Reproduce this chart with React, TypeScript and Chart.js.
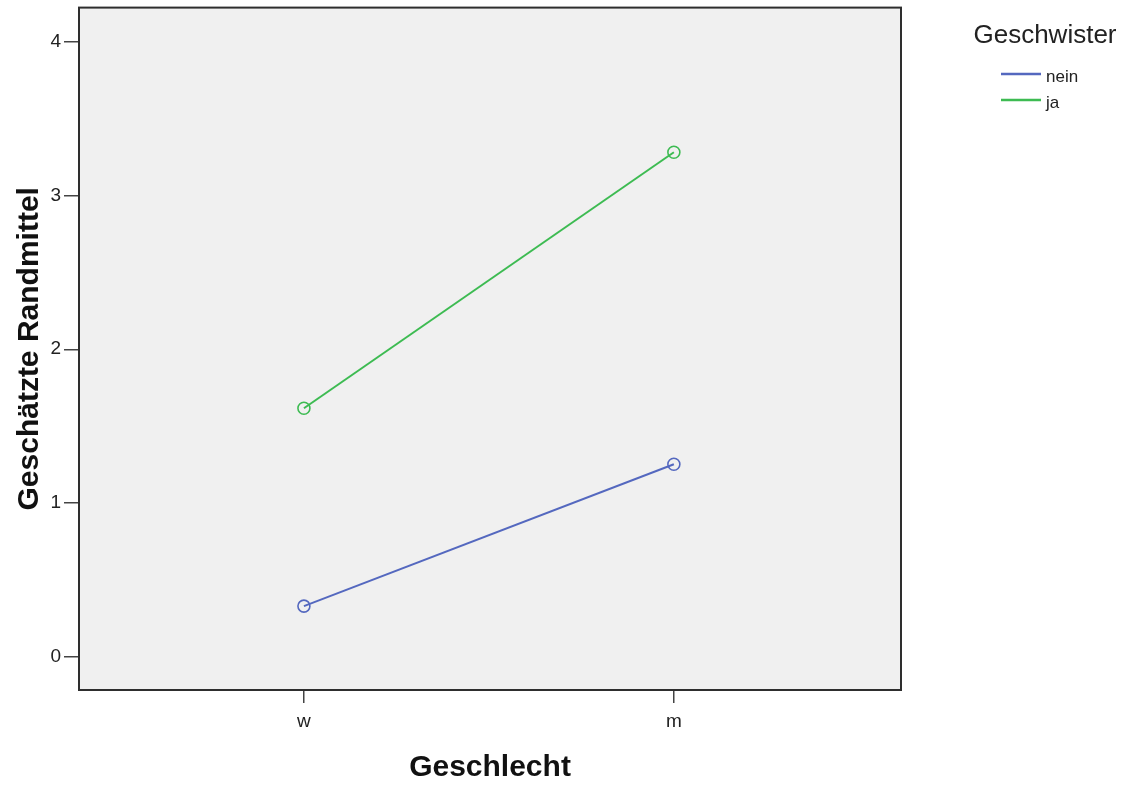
import React, { useEffect, useRef } from "react";
import { Chart, registerables } from "chart.js";

Chart.register(...registerables);

const categories = ["w", "m"];
const seriesNames = ["nein", "ja"];
const neinValues = [0.331, 1.253];
const jaValues = [1.617, 3.28];
const yTicks = [0, 1, 2, 3, 4];
const legendTitle = "Geschwister";
const xTitle = "Geschlecht";
const yTitle = "Geschätzte Randmittel";

const BLUE = "#5468bf";
const GREEN = "#3dbb52";
const FONT = "'Liberation Sans', Arial, sans-serif";

const frameAndLegend = {
  id: "frameAndLegend",
  beforeDraw(chart: any) {
    const { ctx, chartArea } = chart;
    ctx.save();
    ctx.fillStyle = "#f0f0f0";
    ctx.fillRect(chartArea.left, chartArea.top, chartArea.right - chartArea.left, chartArea.bottom - chartArea.top);
    ctx.restore();
  },
  afterDraw(chart: any) {
    const { ctx, chartArea } = chart;
    ctx.save();
    ctx.strokeStyle = "#2e2e2e";
    ctx.lineWidth = 2;
    ctx.strokeRect(chartArea.left, chartArea.top, chartArea.right - chartArea.left, chartArea.bottom - chartArea.top);
    // legend
    ctx.fillStyle = "#222";
    ctx.textAlign = "center";
    ctx.textBaseline = "middle";
    ctx.font = `26px ${FONT}`;
    ctx.fillText(legendTitle, 1045, 36);
    const colors = [BLUE, GREEN];
    ctx.font = `17px ${FONT}`;
    ctx.textAlign = "left";
    seriesNames.forEach((name, i) => {
      const y = 77 + i * 26;
      ctx.strokeStyle = colors[i];
      ctx.lineWidth = 2.5;
      ctx.beginPath();
      ctx.moveTo(1001, y - 3);
      ctx.lineTo(1041, y - 3);
      ctx.stroke();
      ctx.fillStyle = "#222";
      ctx.fillText(name, 1046, y);
    });
    ctx.restore();
  },
};

export default function App() {
  const ref = useRef<HTMLCanvasElement>(null);
  useEffect(() => {
    document.body.style.margin = "0";
    Chart.defaults.font.family = FONT;
    const mk = (vals: number[]) => vals.map((v, i) => ({ x: i, y: v }));
    const ds = (label: string, vals: number[], color: string) => ({
      label,
      data: mk(vals),
      borderColor: color,
      backgroundColor: "rgba(0,0,0,0)",
      pointBorderColor: color,
      pointBackgroundColor: "rgba(0,0,0,0)",
      pointRadius: 6,
      pointBorderWidth: 1.6,
      borderWidth: 2,
    });
    const chart = new Chart(ref.current!, {
      type: "line",
      data: {
        datasets: [ds(seriesNames[0], neinValues, BLUE), ds(seriesNames[1], jaValues, GREEN)],
      },
      options: {
        animation: false,
        responsive: false,
        layout: { padding: { left: 0, top: 7, right: 227, bottom: 0 } },
        plugins: { legend: { display: false }, tooltip: { enabled: false } },
        scales: {
          x: {
            type: "linear",
            min: -0.608,
            max: 1.614,
            afterBuildTicks: (s: any) => {
              s.ticks = categories.map((_, i) => ({ value: i }));
            },
            afterFit: (s: any) => {
              s.height = 97;
              s.paddingLeft = 0;
              s.paddingRight = 0;
            },
            ticks: {
              callback: (v: any) => categories[v] ?? "",
              color: "#222",
              font: { size: 19 },
              padding: 7,
              maxRotation: 0,
            },
            grid: { drawOnChartArea: false, drawTicks: true, tickLength: 13, color: "#444", lineWidth: 1.5 },
            border: { display: false },
            title: {
              display: true,
              text: xTitle,
              color: "#111",
              font: { size: 30, weight: "bold" },
              padding: { top: 0, bottom: 1 },
            },
          },
          y: {
            type: "linear",
            min: -0.214,
            max: 4.22,
            afterBuildTicks: (s: any) => {
              s.ticks = yTicks.map((v) => ({ value: v }));
            },
            afterFit: (s: any) => {
              s.width = 79;
              s.paddingTop = 0;
              s.paddingBottom = 0;
            },
            ticks: {
              color: "#222",
              font: { size: 19 },
              padding: 3,
            },
            grid: { drawOnChartArea: false, drawTicks: true, tickLength: 15, color: "#444", lineWidth: 1.5 },
            border: { display: false },
            title: {
              display: true,
              text: yTitle,
              color: "#111",
              font: { size: 30, weight: "bold" },
              padding: { top: 12, bottom: 0 },
            },
          },
        },
      },
      plugins: [frameAndLegend],
    } as any);
    return () => chart.destroy();
  }, []);
  return (
    <div style={{ position: "fixed", left: 0, top: 0, width: 1128, height: 787, background: "#fff" }}>
      <canvas ref={ref} width={1128} height={787} style={{ width: 1128, height: 787 }} />
    </div>
  );
}
